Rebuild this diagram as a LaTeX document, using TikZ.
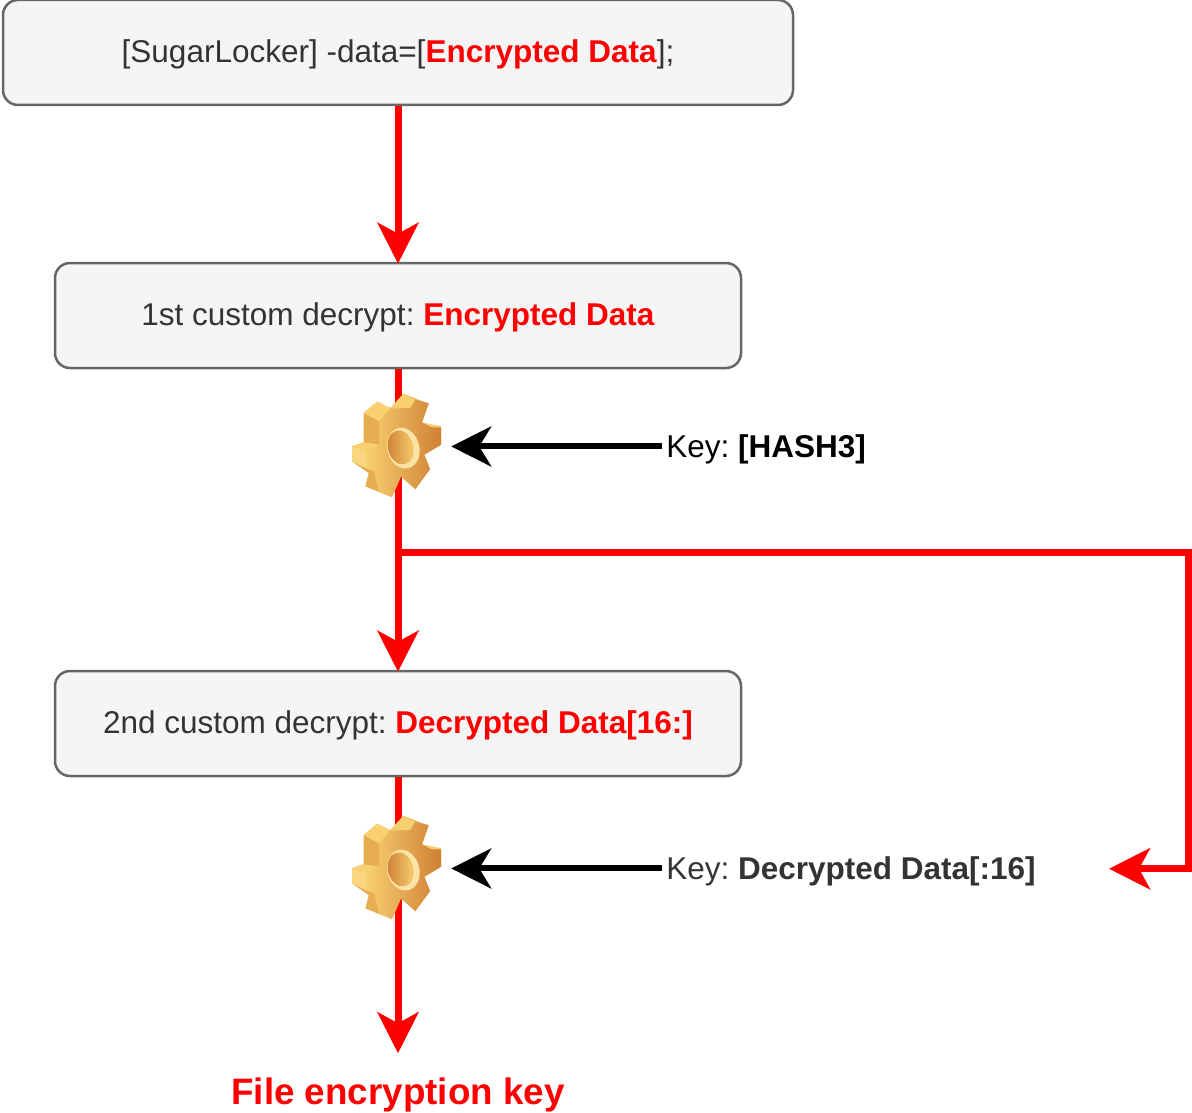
\documentclass[tikz,border=0pt]{standalone}
\usepackage{fontspec}
\setmainfont{Liberation Sans}
\usetikzlibrary{positioning,arrows.meta}
\definecolor{boxfill}{HTML}{F5F5F5}
\definecolor{boxline}{HTML}{666666}
\definecolor{boxtext}{HTML}{333333}
\definecolor{gearb}{HTML}{F8D070}
\definecolor{gearc}{HTML}{E6AE50}
\definecolor{geard}{HTML}{CF8034}
\definecolor{geare}{HTML}{FBE3A6}
\tikzset{
  stepbox/.style={draw=boxline,fill=boxfill,line width=2.5pt,rounded corners=15pt,
    text=boxtext,minimum height=105pt,inner sep=0pt,text height=27pt,text depth=6.6pt,
    font=\fontsize{31.5}{36}\selectfont},
  keylabel/.style={inner sep=4pt,text height=28pt,text depth=6.6pt,font=\fontsize{31.5}{36}\selectfont},
  gearspot/.style={minimum width=102pt,minimum height=100pt,inner sep=0pt},
  redline/.style={draw=red,line width=7pt},
  redarrow/.style={redline,shorten >=-2pt,-{Stealth[length=41pt,width=41pt,inset=11pt]}},
  keyarrow/.style={draw=black,line width=6pt,-{Stealth[length=40pt,width=40pt,inset=12pt]}},
  gear/.pic={
    \begin{scope}[x=0.3333pt,y=-0.3333pt,shift={(-212,-200)}]
      % teeth behind
      \fill[gearc] (222,42)--(298,72)--(278,128)--(335,140)--(335,195)--(285,225)--(302,268)--(258,328)--(215,290)--(188,352)--(108,320)--(118,280)--(68,245)--(68,200)--(103,187)--(103,100)--(143,66)--(183,85)--cycle;
      \fill[gearb] (183,87)--(222,42)--(258,60)--(243,85)--cycle;
      \fill[gearb] (103,100)--(143,66)--(183,85)--(150,125)--cycle;
      \fill[gearb] (68,200)--(103,187)--(150,195)--(110,215)--cycle;
      \fill[gearb!70!geare] (68,200)--(110,215)--(110,265)--(68,245)--cycle;
      \fill[gearb] (278,128)--(335,140)--(305,142)--cycle;
      % front face
      \shade[left color=gearb,right color=geard] (183,87)--(243,85)--(258,60)--(298,70)--(278,128)--(305,142)--(335,145)--(335,195)--(285,225)--(302,268)--(258,328)--(215,290)--(188,352)--(150,335)--(140,300)--(135,275)--(110,265)--(110,215)--(150,195)--(150,125)--cycle;
      % hole
      \fill[geare,rotate around={15:(222,205)}] (222,205) ellipse (48 and 62);
      \shade[left color=geard,right color=gearb,rotate around={15:(214,203)}] (214,203) ellipse (38 and 52);
    \end{scope}
  }
}
\begin{document}
\frenchspacing
\begin{tikzpicture}[x=1pt,y=1pt]

  \useasboundingbox (0,0) rectangle (1192,-1113);

  % Boxes

  \node[stepbox,minimum width=790pt] at (398,-52.5) (box1) {[SugarLocker] -data=[\textcolor{red}{\textbf{Encrypted Data}}];};
  \node[stepbox,minimum width=686pt,below=155.5pt of box1] (box2) {1st custom decrypt: \textcolor{red}{\textbf{Encrypted Data}}};
  \node[stepbox,minimum width=686pt,below=300.5pt of box2] (box3) {2nd custom decrypt: \textcolor{red}{\textbf{Decrypted Data[16:]}}};

  % Gears and keys

  \node[gearspot,below=27pt of box2,xshift=2pt] (gear1) {};
  \node[gearspot,below=41pt of box3,xshift=2pt] (gear2) {};
  \node[keylabel,right=211pt of gear1] (key1) {Key: \textbf{[HASH3]}};
  \node[keylabel,text=boxtext,right=211pt of gear2] (key2) {Key: \textbf{Decrypted Data[:16]}};

  \coordinate[below=183pt of box2] (fork);
  \coordinate[right=790pt of fork] (corner1);
  \coordinate[below=316.5pt of corner1] (corner2);
  \coordinate[left=77pt of corner2] (keyend);

  \node[below=300pt of box3,text=red,inner sep=0pt,font=\fontsize{36.8}{42}\selectfont\bfseries] (result) {File encryption key};

  % Connectors

  \draw[redarrow] (box1) -- (box2);
  \draw[redarrow] (box2) -- (box3);
  \draw[redarrow] (fork) -- (corner1) -- (corner2) -- (keyend);
  \draw[redarrow,shorten >=24pt] (box3) -- (result);

  \draw[keyarrow] (key1) -- (gear1);
  \draw[keyarrow] (key2) -- (gear2);

  \pic at (gear1) {gear};
  \pic at (gear2) {gear};

\end{tikzpicture}
\end{document}
